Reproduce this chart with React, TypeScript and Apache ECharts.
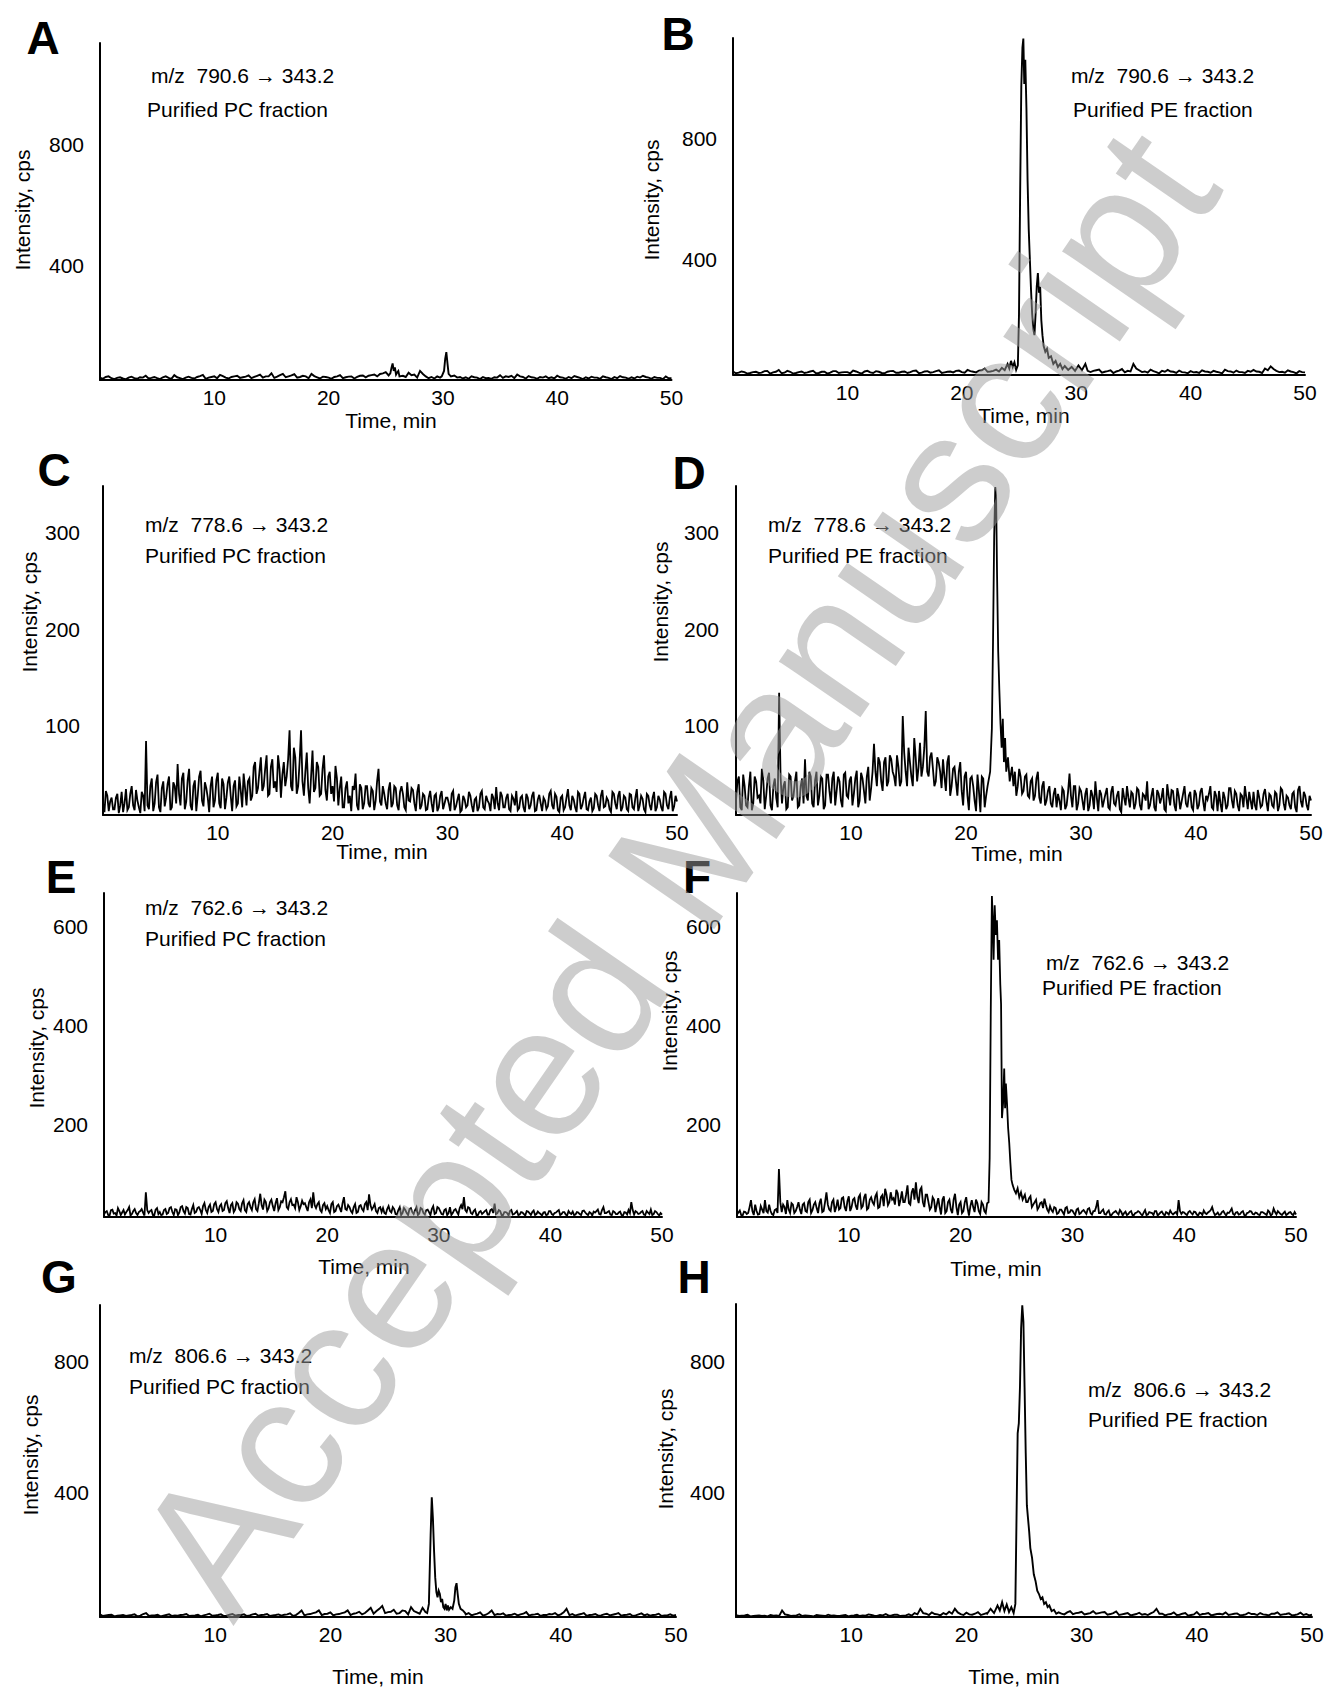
import React, { useEffect, useRef } from 'react';
import * as echarts from 'echarts';

type Pt = [number, number];

// ---------- DATA (intensity in cps) ----------
const xTicks = [10, 20, 30, 40, 50];

// Panel A: m/z 790.6 -> 343.2, PC fraction (baseline every 0.5 min, plus readings in between)
const aStep = 0.5;
const aBase: (number | null)[] = [
  8, 10, 6, 7, 5, 8, 6, 9, 14, 7,
  6, 9, 7, 16, 6, 8, 7, 10, 17, 8,
  12, 17, 8, 10, 14, 9, 15, 10, 18, 12,
  22, 11, 20, 12, 19, 10, 12, 20, 9, 11,
  8, 10, 16, 9, 12, 10, 15, 14, 18, 20,
  26, null, null, 14, 24, 18, 30, 12, 10, 12,
  null, null, 15, 10, 9, 12, 8, 10, 7, 9,
  16, 12, 14, 18, 10, 13, 8, 10, 12, 9,
  14, 8, 10, 13, 7, 9, 11, 8, 12, 7,
  10, 13, 8, 9, 11, 14, 8, 10, 7, 12,
  6,
];
const aMid: (number | null)[] = [
  4, 12, 3, 9, 2, 11, 4, 8, 5, 10,
  3, 12, 4, 9, 3, 11, 5, 13, 4, 10,
  6, 13, 5, 12, 7, 11, 6, 14, 8, 12,
  7, 16, 9, 15, 8, 14, 6, 13, 5, 10,
  4, 12, 6, 11, 5, 14, 9, 16, 12, 22,
  15, null, null, 10, 16, 8, 20, 6, 5, 8,
  null, null, 8, 5, 4, 9, 3, 6, 4, 8,
  7, 10, 6, 12, 5, 9, 4, 8, 6, 5,
  9, 4, 6, 10, 3, 5, 8, 4, 9, 3,
  6, 9, 4, 5, 8, 10, 4, 7, 3, 6,
];
const aPeak1: Pt[] = [[25.4, 22], [25.5, 40], [25.6, 55], [25.7, 30], [25.8, 42], [25.9, 18], [26.0, 25], [26.1, 30], [26.2, 12]];
const aPeak2: Pt[] = [[29.9, 12], [30.1, 30], [30.2, 70], [30.3, 92], [30.4, 55], [30.5, 20], [30.7, 12]];

// Panel B: m/z 790.6 -> 343.2, PE fraction
const bStep = 0.5;
const bBase: (number | null)[] = [
  10, 6, 8, 5, 9, 6, 12, 7, 15, 6,
  9, 5, 10, 7, 12, 5, 9, 6, 11, 7,
  8, 13, 6, 10, 7, 11, 5, 9, 12, 6,
  10, 8, 13, 6, 11, 8, 14, 7, 10, 12,
  8, 15, 9, 13, 20, 10, 16, 22, null, null,
  null, null, null, null, null, null, null, null, null, null,
  null, null, null, 12, 16, 9, 14, 10, 18, 12,
  35, 14, 10, 16, 8, 12, 15, 9, 13, 7,
  11, 8, 14, 9, 12, 7, 16, 10, 13, 8,
  12, 15, 9, 20, 27, 12, 9, 14, 8, 11,
  7,
];
const bMid: (number | null)[] = [
  4, 10, 3, 8, 5, 11, 3, 9, 4, 12,
  3, 8, 5, 10, 4, 9, 3, 11, 5, 8,
  4, 10, 3, 12, 5, 9, 4, 11, 6, 9,
  5, 12, 4, 10, 6, 11, 5, 9, 7, 13,
  6, 11, 7, 14, 9, 12, 10, 14, null, null,
  null, null, null, null, null, null, null, null, null, null,
  null, null, 8, 14, 6, 11, 5, 13, 7, 10,
  20, 8, 6, 11, 4, 9, 10, 5, 8, 4,
  7, 5, 10, 6, 9, 4, 11, 6, 8, 5,
  9, 10, 5, 14, 18, 8, 6, 10, 4, 8,
];
const bPeak: Pt[] = [
  [23.8, 15], [24.0, 35], [24.15, 20], [24.3, 45], [24.45, 25], [24.6, 40], [24.75, 15], [24.9, 30],
  [25.0, 200], [25.1, 600], [25.2, 950], [25.3, 1080], [25.38, 1110], [25.46, 960], [25.55, 1040],
  [25.65, 880], [25.75, 640], [25.85, 480], [25.95, 380], [26.05, 280], [26.15, 200], [26.25, 150],
  [26.35, 130], [26.45, 200], [26.55, 290], [26.65, 335], [26.75, 270], [26.85, 290], [26.95, 180],
  [27.05, 130], [27.15, 95], [27.3, 75], [27.45, 85], [27.6, 55], [27.8, 60], [28.0, 35], [28.2, 45],
  [28.4, 25], [28.6, 35], [28.8, 18], [29.0, 28], [29.3, 15], [29.6, 25], [29.9, 12], [30.2, 30],
  [30.5, 14], [30.8, 35], [31.0, 12],
];

// Panel C: m/z 778.6 -> 343.2, PC fraction (every 0.25 min, plus readings in between)
const cStep = 0.25;
const cBase: (number | null)[] = [
  12, 25, 4, 18, 6, 22, 10, 3, 27, 8, 30, 5, 15, 2, 20, 77,
  6, 38, 12, 42, 3, 35, 18, 40, 8, 30, 53, 10, 44, 14, 48, 5,
  36, 20, 46, 9, 28, 3, 40, 15, 44, 7, 32, 18, 40, 4, 36, 12,
  25, 43, 10, 38, 20, 55, 28, 60, 30, 62, 22, 58, 35, 62, 18, 55,
  40, 88, 25, 60, 30, 88, 20, 65, 12, 67, 28, 50, 22, 62, 15, 45,
  30, 51, 10, 40, 8, 35, 20, 30, 43, 5, 28, 12, 30, 8, 25, 15,
  48, 10, 22, 6, 34, 12, 28, 5, 30, 8, 34, 14, 26, 4, 32, 10,
  20, 6, 25, 3, 22, 8, 25, 12, 18, 4, 25, 9, 22, 5, 16, 10,
  20, 3, 18, 8, 25, 6, 15, 4, 18, 29, 5, 20, 8, 22, 4, 17,
  25, 7, 20, 3, 18, 10, 24, 5, 21, 4, 15, 9, 25, 6, 19, 3,
  20, 8, 27, 5, 16, 3, 22, 10, 24, 5, 18, 7, 20, 4, 26, 9,
  15, 3, 22, 6, 25, 8, 18, 4, 21, 6, 27, 10, 17, 3, 20, 5,
  24, 8, 16, 4, 22, 6, 25, 9, 14,
];
const cMid: (number | null)[] = [
  3, 20, 14, 6, 18, 2, 24, 12, 5, 22, 10, 26, 8, 24, 4, 10,
  30, 4, 34, 8, 28, 9, 32, 5, 34, 12, 22, 38, 6, 36, 10, 30,
  4, 40, 15, 34, 18, 30, 8, 36, 12, 38, 6, 34, 20, 30, 9, 40,
  8, 28, 35, 15, 50, 22, 45, 25, 48, 20, 50, 28, 24, 48, 42, 30,
  58, 30, 70, 22, 55, 35, 45, 28, 40, 24, 55, 20, 48, 26, 40, 22,
  14, 38, 28, 8, 28, 12, 4, 26, 10, 32, 6, 30, 12, 28, 5, 35,
  14, 30, 12, 26, 8, 30, 10, 24, 22, 5, 15, 28, 12, 24, 6, 22,
  5, 18, 12, 20, 4, 20, 6, 18, 12, 22, 5, 16, 3, 20, 8, 24,
  10, 16, 4, 22, 8, 20, 12, 22, 6, 12, 24, 8, 18, 6, 20, 10,
  5, 18, 8, 22, 6, 20, 4, 16, 12, 18, 6, 22, 10, 22, 5, 18,
  5, 18, 10, 20, 8, 24, 6, 18, 6, 14, 4, 22, 10, 20, 8, 18,
  6, 24, 12, 20, 4, 20, 6, 22, 8, 18, 4, 20, 6, 22, 10, 18,
  4, 20, 8, 24, 10, 18, 4, 20,
];

// Panel D: m/z 778.6 -> 343.2, PE fraction
const dStep = 0.25;
const dBase: (number | null)[] = [
  15, 40, 5, 30, 8, 45, 12, 35, 20, 48, 6, 38, 10, 30, 18, 127,
  12, 35, 8, 40, 20, 45, 10, 38, 58, 15, 40, 8, 45, 20, 38, 10,
  42, 12, 45, 25, 35, 8, 44, 18, 40, 22, 46, 15, 38, 12, 50, 28,
  74, 30, 55, 25, 60, 35, 58, 40, 62, 30, 103, 45, 70, 40, 80, 35,
  75, 50, 108, 40, 65, 30, 60, 45, 58, 25, 62, 30, 50, 20, 55, 10,
  45, 5, 40, 15, 42, 3, 38, 20, null, null, null, null, null, null, null, null,
  null, 45, 30, 40, 25, 42, 18, 38, 20, 45, 12, 35, 15, 30, 8, 28,
  22, 5, 25, 10, 43, 8, 30, 12, 25, 5, 28, 10, 20, 35, 4, 22,
  15, 28, 6, 30, 10, 25, 3, 18, 30, 8, 22, 12, 26, 5, 20, 35,
  10, 28, 4, 22, 18, 6, 32, 10, 25, 4, 20, 14, 30, 8, 24, 5,
  22, 10, 28, 4, 16, 30, 6, 20, 25, 3, 18, 10, 28, 7, 22, 4,
  20, 30, 6, 15, 24, 5, 18, 10, 27, 4, 20, 8, 22, 10, 26, 5,
  18, 6, 24, 3, 30, 8, 20, 5, 15,
];
const dMid: (number | null)[] = [
  35, 8, 42, 10, 30, 5, 40, 18, 12, 36, 20, 44, 5, 38, 8, 40,
  30, 6, 42, 15, 35, 8, 30, 12, 20, 45, 12, 36, 10, 40, 6, 42,
  25, 38, 10, 40, 15, 42, 20, 36, 10, 38, 8, 44, 25, 40, 15, 45,
  45, 60, 35, 55, 30, 62, 45, 30, 50, 35, 65, 30, 55, 30, 60, 50,
  40, 70, 45, 60, 48, 35, 55, 28, 40, 55, 20, 48, 35, 45, 25, 40,
  20, 38, 30, 4, 25, 40, 8, 30, null, null, null, null, null, null, null, null,
  30, 20, 48, 22, 40, 20, 35, 15, 38, 18, 30, 10, 25, 12, 22, 8,
  15, 28, 6, 24, 20, 30, 5, 28, 15, 22, 4, 26, 6, 18, 26, 8,
  22, 8, 24, 12, 20, 6, 28, 10, 18, 24, 6, 28, 10, 22, 15, 6,
  20, 8, 26, 12, 28, 4, 20, 26, 10, 28, 6, 22, 12, 20, 8, 26,
  6, 24, 14, 20, 22, 8, 25, 4, 12, 24, 6, 28, 15, 25, 10, 22,
  8, 18, 24, 6, 10, 26, 8, 22, 14, 22, 10, 24, 4, 28, 12, 20,
  10, 22, 8, 26, 14, 24, 10, 20,
];
const dPeak: Pt[] = [
  [21.9, 30], [22.1, 45], [22.25, 90], [22.35, 180], [22.45, 290], [22.55, 341], [22.62, 330],
  [22.7, 250], [22.8, 170], [22.9, 130], [23.0, 95], [23.1, 70], [23.2, 100], [23.3, 55],
  [23.4, 80], [23.5, 45], [23.65, 60], [23.8, 35], [24.0, 50],
];

// Panel E: m/z 762.6 -> 343.2, PC fraction
const eStep = 0.25;
const eBase: (number | null)[] = [
  5, 12, 3, 15, 8, 18, 4, 14, 10, 20, 6, 16, 4, 12, 9, 50,
  8, 14, 3, 18, 10, 5, 16, 8, 20, 4, 15, 9, 22, 7, 18, 5,
  24, 10, 20, 6, 28, 8, 25, 12, 30, 10, 26, 14, 32, 8, 28, 15,
  27, 12, 34, 10, 30, 14, 36, 12, 47, 15, 30, 18, 35, 12, 38, 20,
  30, 52, 16, 36, 25, 40, 14, 33, 28, 12, 36, 50, 18, 30, 10, 28,
  22, 8, 30, 12, 25, 10, 40, 14, 20, 8, 26, 10, 24, 12, 30, 46,
  15, 26, 8, 20, 18, 6, 22, 9, 16, 5, 20, 8, 14, 4, 18, 6,
  20, 7, 16, 5, 15, 4, 22, 8, 18, 6, 14, 4, 20, 8, 16, 5,
  24, 40, 10, 18, 6, 15, 4, 12, 9, 14, 5, 16, 27, 8, 12, 4,
  10, 3, 14, 6, 12, 5, 9, 3, 11, 4, 13, 6, 8, 3, 10, 5,
  12, 4, 9, 14, 6, 10, 3, 8, 11, 5, 9, 4, 13, 6, 10, 3,
  9, 15, 5, 20, 8, 12, 4, 10, 6, 11, 3, 9, 14, 30, 5, 10,
  7, 12, 4, 9, 15, 6, 10, 3, 5,
];
const eMid: (number | null)[] = [
  10, 4, 14, 7, 3, 12, 9, 5, 14, 3, 12, 8, 10, 16, 3, 14,
  12, 4, 15, 6, 4, 14, 6, 18, 10, 16, 4, 20, 12, 20, 6, 16,
  8, 18, 14, 22, 14, 20, 10, 26, 16, 22, 12, 28, 18, 24, 10, 30,
  16, 28, 14, 26, 20, 30, 16, 28, 24, 35, 12, 30, 22, 28, 14, 32,
  40, 20, 30, 24, 18, 30, 22, 26, 20, 30, 18, 24, 26, 14, 24, 16,
  14, 26, 10, 22, 18, 28, 16, 24, 12, 20, 8, 22, 16, 26, 14, 24,
  20, 12, 18, 10, 8, 16, 12, 20, 6, 14, 4, 18, 8, 16, 10, 14,
  4, 18, 8, 14, 10, 16, 6, 20, 12, 5, 16, 8, 4, 14, 10, 18,
  16, 14, 20, 8, 12, 4, 10, 6, 12, 5, 14, 8, 6, 14, 4, 10,
  8, 12, 5, 9, 4, 10, 6, 12, 8, 10, 4, 11, 6, 9, 4, 12,
  6, 8, 12, 4, 10, 5, 12, 6, 4, 10, 6, 12, 9, 4, 8, 11,
  12, 6, 14, 8, 10, 5, 12, 6, 9, 4, 10, 5, 8, 14, 12, 6,
  10, 5, 12, 6, 4, 12, 6, 8,
];

// Panel F: m/z 762.6 -> 343.2, PE fraction
const fStep = 0.25;
const fBase: (number | null)[] = [
  5, 13, 3, 10, 8, 34, 4, 12, 6, 15, 34, 9, 12, 4, 16, 97,
  10, 20, 34, 8, 25, 12, 30, 6, 28, 10, 35, 14, 30, 8, 37, 12,
  50, 15, 30, 10, 35, 18, 40, 12, 42, 20, 38, 15, 45, 22, 47, 18,
  40, 25, 48, 20, 44, 57, 24, 50, 38, 55, 22, 52, 30, 64, 25, 58,
  70, 28, 60, 20, 45, 15, 40, 10, 38, 5, 42, 12, 35, 8, 47, 4,
  30, 12, 40, 3, 34, 10, 28, 6, 25, 8, null, null, null, null, null, null,
  null, null, null, null, null, null, null, 45, 30, 42, 25, 35, 20, 30, 37, 15,
  22, 10, 18, 8, 15, 5, 20, 9, 13, 4, 17, 8, 14, 6, 18, 5,
  12, 34, 8, 15, 5, 13, 4, 10, 8, 14, 3, 11, 6, 12, 4, 9,
  10, 3, 14, 5, 9, 4, 12, 6, 11, 3, 8, 13, 5, 10, 34, 6,
  9, 4, 12, 5, 10, 3, 8, 13, 6, 11, 20, 4, 9, 5, 12, 3,
  8, 17, 4, 10, 6, 12, 3, 9, 11, 5, 8, 4, 10, 6, 13, 3,
  17, 5, 9, 4, 11, 6, 10, 4, 5,
];
const fMid: (number | null)[] = [
  9, 4, 11, 6, 20, 12, 25, 5, 22, 8, 12, 25, 6, 14, 8, 30,
  25, 6, 15, 28, 8, 20, 15, 25, 12, 30, 8, 25, 18, 28, 10, 30,
  25, 12, 35, 20, 15, 38, 20, 32, 12, 35, 22, 40, 18, 40, 15, 35,
  30, 42, 18, 40, 22, 45, 30, 35, 25, 48, 35, 30, 45, 28, 50, 35,
  40, 55, 30, 45, 30, 20, 35, 25, 20, 35, 8, 30, 15, 35, 20, 25,
  8, 30, 18, 22, 20, 35, 12, 30, 12, 28, null, null, null, null, null, null,
  null, null, null, null, null, null, null, 30, 38, 20, 30, 15, 28, 18, 25, 10,
  14, 20, 6, 15, 10, 18, 8, 14, 8, 15, 6, 12, 10, 16, 8, 12,
  20, 8, 12, 6, 10, 4, 8, 12, 5, 10, 8, 4, 10, 4, 8, 12,
  6, 9, 4, 10, 8, 12, 3, 9, 6, 10, 5, 8, 8, 5, 12, 10,
  6, 10, 8, 11, 5, 9, 4, 8, 9, 14, 10, 6, 4, 10, 7, 9,
  12, 6, 9, 5, 10, 4, 8, 12, 6, 9, 5, 10, 8, 4, 10, 6,
  10, 12, 6, 8, 4, 9, 6, 10,
];
const fPeak: Pt[] = [
  [22.5, 30], [22.6, 120], [22.7, 420], [22.8, 649], [22.88, 600], [22.95, 520], [23.05, 630],
  [23.15, 570], [23.25, 600], [23.35, 520], [23.45, 560], [23.55, 470], [23.62, 430], [23.7, 200],
  [23.8, 230], [23.9, 300], [23.98, 220], [24.05, 270], [24.15, 230], [24.25, 180], [24.35, 150],
  [24.45, 110], [24.55, 75], [24.65, 65], [24.8, 55], [24.95, 48], [25.1, 58], [25.25, 40],
  [25.4, 50], [25.55, 35],
];

// Panel G: m/z 806.6 -> 343.2, PC fraction
const gStep = 0.5;
const gBase: (number | null)[] = [
  8, 5, 7, 4, 6, 5, 8, 4, 12, 5,
  7, 4, 8, 5, 6, 9, 4, 7, 5, 10,
  5, 8, 4, 9, 6, 8, 5, 10, 6, 9,
  5, 8, 7, 11, 6, 20, 8, 12, 20, 9,
  14, 8, 12, 20, 10, 16, 12, 28, 18, 34,
  15, 22, 12, 18, 30, 14, 28, null, null, null,
  null, null, null, null, 12, 8, 14, 7, 20, 9,
  11, 6, 10, 8, 15, 7, 10, 6, 9, 12,
  8, 25, 9, 7, 12, 6, 9, 5, 10, 7,
  12, 6, 9, 5, 11, 8, 6, 10, 5, 8,
  6,
];
const gMid: (number | null)[] = [
  3, 6, 2, 5, 3, 6, 2, 9, 3, 5,
  2, 6, 3, 4, 7, 3, 5, 2, 7, 4,
  6, 3, 7, 4, 6, 3, 8, 4, 7, 3,
  6, 4, 8, 3, 12, 5, 9, 14, 6, 10,
  5, 9, 14, 6, 12, 8, 20, 10, 25, 12,
  16, 10, 20, 8, 18, 10, 15, null, null, null,
  null, null, null, 8, 5, 10, 4, 12, 6, 8,
  4, 7, 5, 10, 4, 8, 3, 6, 8, 5,
  14, 6, 4, 9, 3, 7, 4, 8, 5, 9,
  4, 7, 3, 8, 5, 4, 7, 3, 5, 4,
];
const gPeak: Pt[] = [
  [28.4, 12], [28.55, 40], [28.7, 250], [28.8, 365], [28.9, 300], [29.0, 200], [29.1, 120], [29.2, 76],
  [29.3, 60], [29.4, 80], [29.5, 70], [29.6, 45], [29.7, 55], [29.8, 30], [29.9, 25], [30.0, 40],
  [30.1, 20], [30.2, 35], [30.3, 22], [30.45, 30], [30.6, 25], [30.75, 50], [30.85, 90], [30.95, 103],
  [31.05, 70], [31.15, 40], [31.3, 25], [31.5, 20], [31.7, 12],
];

// Panel H: m/z 806.6 -> 343.2, PE fraction
const hStep = 0.5;
const hBase: (number | null)[] = [
  6, 4, 7, 3, 5, 4, 6, 5, 20, 6,
  4, 8, 5, 3, 6, 4, 7, 5, 3, 6,
  4, 7, 5, 8, 4, 6, 9, 5, 7, 4,
  8, 12, 25, 10, 14, 8, 12, 16, 25, 9,
  13, 7, 15, 9, null, null, null, null, null, null,
  null, null, null, null, null, null, 14, 8, 18, 12,
  16, 10, 18, 12, 15, 9, 17, 8, 12, 7,
  13, 9, 11, 25, 10, 8, 14, 7, 12, 6,
  15, 9, 12, 7, 10, 14, 8, 11, 6, 13,
  9, 12, 7, 10, 14, 8, 11, 6, 13, 9,
  7,
];
const hMid: (number | null)[] = [
  3, 5, 2, 4, 3, 2, 4, 3, 8, 3,
  5, 3, 4, 2, 5, 3, 4, 3, 5, 2,
  5, 3, 4, 6, 3, 5, 4, 7, 3, 5,
  4, 8, 12, 6, 9, 5, 8, 10, 14, 6,
  8, 10, 6, 12, null, null, null, null, null, null,
  null, null, null, null, null, null, 10, 14, 9, 13,
  8, 12, 10, 14, 7, 12, 6, 10, 5, 9,
  7, 6, 15, 10, 5, 9, 6, 10, 4, 8,
  6, 10, 5, 9, 8, 6, 10, 5, 8, 9,
  6, 8, 5, 10, 6, 9, 5, 8, 6, 5,
];
const hPeak: Pt[] = [
  [21.8, 10], [22.1, 25], [22.4, 12], [22.7, 35], [22.9, 20], [23.1, 45], [23.3, 18], [23.5, 38],
  [23.7, 15], [23.9, 30], [24.1, 12], [24.25, 40], [24.35, 300], [24.45, 560], [24.55, 590],
  [24.65, 700], [24.75, 880], [24.85, 950], [24.95, 900], [25.05, 700], [25.15, 500], [25.25, 340],
  [25.35, 300], [25.45, 260], [25.55, 210], [25.7, 180], [25.85, 130], [26.0, 110], [26.15, 80],
  [26.3, 70], [26.45, 55], [26.6, 60], [26.75, 40], [26.9, 45], [27.05, 30], [27.2, 35], [27.4, 18],
  [27.6, 22], [27.8, 10],
];

const letters = ['A', 'B', 'C', 'D', 'E', 'F', 'G', 'H'];
const transitions = [
  'm/z  790.6 → 343.2', 'm/z  790.6 → 343.2',
  'm/z  778.6 → 343.2', 'm/z  778.6 → 343.2',
  'm/z  762.6 → 343.2', 'm/z  762.6 → 343.2',
  'm/z  806.6 → 343.2', 'm/z  806.6 → 343.2',
];
const fractions = [
  'Purified PC fraction', 'Purified PE fraction',
  'Purified PC fraction', 'Purified PE fraction',
  'Purified PC fraction', 'Purified PE fraction',
  'Purified PC fraction', 'Purified PE fraction',
];
const yIntervals = [400, 400, 100, 100, 200, 200, 400, 400];
const xTitle = 'Time, min';
const yTitle = 'Intensity, cps';
const watermarkText = 'Accepted Manuscript';

// ---------- LAYOUT ----------
const FONT = '"Liberation Sans", Arial, Helvetica, sans-serif';

const layout = [
  { left: 100, top: 43, width: 571.5, height: 337, yMax: 1114, yMargin: 16, lw: 1.9 },
  { left: 733, top: 38, width: 572, height: 336.5, yMax: 1112, yMargin: 16, lw: 1.9 },
  { left: 103, top: 486, width: 574, height: 329, yMax: 342, yMargin: 23, lw: 1.8 },
  { left: 736, top: 486, width: 575, height: 329, yMax: 342, yMargin: 17, lw: 1.8 },
  { left: 104, top: 893, width: 558, height: 324, yMax: 655, yMargin: 16, lw: 1.8 },
  { left: 737, top: 893, width: 559, height: 324, yMax: 655, yMargin: 16, lw: 1.8 },
  { left: 100, top: 1305, width: 576, height: 312, yMax: 951, yMargin: 11, lw: 1.9 },
  { left: 736, top: 1304, width: 576, height: 313, yMax: 954, yMargin: 11, lw: 1.9 },
];

const letterPos: Pt[] = [[43, 38], [678, 34], [54, 470], [689, 473], [61, 877], [697, 877], [59, 1277], [694, 1277]];
const transPos: Pt[] = [[151, 75], [1071, 75], [145, 524], [768, 524], [145, 907], [1046, 962], [129, 1355], [1088, 1389]];
const fracPos: Pt[] = [[147, 109], [1073, 109], [145, 555], [768, 555], [145, 938], [1042, 987], [129, 1386], [1088, 1419]];
const xTitlePos: Pt[] = [[391, 420], [1024, 415], [382, 851], [1017, 853], [364, 1266], [996, 1268], [378, 1676], [1014, 1676]];
const yTitlePos: Pt[] = [[22, 210], [651, 200], [29, 612], [660, 602], [36, 1048], [669, 1011], [30, 1455], [665, 1449]];

function buildSeries(base: (number | null)[], step: number, peaks: Pt[][], mid: (number | null)[] = []): Pt[] {
  const ranges = peaks.map((p) => [p[0][0], p[p.length - 1][0]]);
  const inPeak = (t: number) => ranges.some(([a, b]) => t >= a && t <= b);
  const out: Pt[] = [];
  base.forEach((v, i) => {
    if (v === null) return;
    const t = Math.round(i * step * 1000) / 1000;
    if (inPeak(t)) return;
    out.push([t, v]);
  });
  mid.forEach((v, i) => {
    if (v === null) return;
    const t = Math.round((i + 0.5) * step * 1000) / 1000;
    if (inPeak(t)) return;
    out.push([t, v]);
  });
  peaks.forEach((p) => p.forEach((q) => out.push(q)));
  out.sort((a, b) => a[0] - b[0]);
  return out;
}

const seriesData: Pt[][] = [
  buildSeries(aBase, aStep, [aPeak1, aPeak2], aMid),
  buildSeries(bBase, bStep, [bPeak], bMid),
  buildSeries(cBase, cStep, [], cMid),
  buildSeries(dBase, dStep, [dPeak], dMid),
  buildSeries(eBase, eStep, [], eMid),
  buildSeries(fBase, fStep, [fPeak], fMid),
  buildSeries(gBase, gStep, [gPeak], gMid),
  buildSeries(hBase, hStep, [hPeak], hMid),
];

export default function App() {
  const ref = useRef<HTMLDivElement>(null);

  useEffect(() => {
    if (!ref.current) return;
    const chart = echarts.init(ref.current, undefined, { renderer: 'svg' });

    const grid = layout.map((l) => ({ left: l.left, top: l.top, width: l.width, height: l.height }));
    const xAxis = layout.map((_, i) => ({
      type: 'value',
      gridIndex: i,
      min: 0,
      max: 50,
      interval: 10,
      axisLine: { show: true, onZero: false, lineStyle: { color: '#000', width: 2 } },
      axisTick: { show: false },
      splitLine: { show: false },
      axisLabel: {
        color: '#000',
        fontSize: 21,
        fontFamily: FONT,
        margin: 7,
        formatter: (v: number) => (xTicks.indexOf(v) >= 0 ? String(v) : ''),
      },
    }));
    const yAxis = layout.map((l, i) => ({
      type: 'value',
      gridIndex: i,
      min: 0,
      max: l.yMax,
      interval: yIntervals[i],
      axisLine: { show: true, onZero: false, lineStyle: { color: '#000', width: 2 } },
      axisTick: { show: false },
      splitLine: { show: false },
      axisLabel: {
        color: '#000',
        fontSize: 21,
        fontFamily: FONT,
        margin: l.yMargin,
        verticalAlign: 'top',
        lineHeight: 13,
        formatter: (v: number) => (v > 0 && v % yIntervals[i] === 0 ? String(v) : ''),
      },
    }));
    const series = seriesData.map((d, i) => ({
      type: 'line',
      xAxisIndex: i,
      yAxisIndex: i,
      data: d,
      symbol: 'none',
      showSymbol: false,
      lineStyle: { color: '#000', width: layout[i].lw, join: 'miter' },
      z: 3,
    }));

    const textEl = (text: string, x: number, y: number, font: string, align: string, rotation = 0) => ({
      type: 'text',
      x,
      y,
      rotation,
      z: 10,
      style: { text, font, fill: '#000', align, verticalAlign: 'middle' },
    });

    const graphic: any[] = [];
    letters.forEach((t, i) => graphic.push(textEl(t, letterPos[i][0], letterPos[i][1], `bold 46px ${FONT}`, 'center')));
    transitions.forEach((t, i) => graphic.push(textEl(t, transPos[i][0], transPos[i][1], `21px ${FONT}`, 'left')));
    fractions.forEach((t, i) => graphic.push(textEl(t, fracPos[i][0], fracPos[i][1], `21px ${FONT}`, 'left')));
    xTitlePos.forEach((p) => graphic.push(textEl(xTitle, p[0], p[1], `21px ${FONT}`, 'center')));
    yTitlePos.forEach((p) => graphic.push(textEl(yTitle, p[0], p[1], `21px ${FONT}`, 'center', Math.PI / 2)));
    graphic.push({
      type: 'text',
      x: 676,
      y: 871,
      rotation: (55.4 * Math.PI) / 180,
      z: 100,
      style: {
        text: watermarkText,
        font: `187px ${FONT}`,
        fill: 'rgba(155,155,155,0.5)',
        align: 'center',
        verticalAlign: 'middle',
      },
    });

    chart.setOption({
      animation: false,
      backgroundColor: '#fff',
      grid,
      xAxis,
      yAxis,
      series,
      graphic,
    } as any);

    return () => chart.dispose();
  }, []);

  return (
    <div
      ref={ref}
      style={{ position: 'absolute', left: 0, top: 0, width: '1329px', height: '1690px', background: '#fff' }}
    />
  );
}
